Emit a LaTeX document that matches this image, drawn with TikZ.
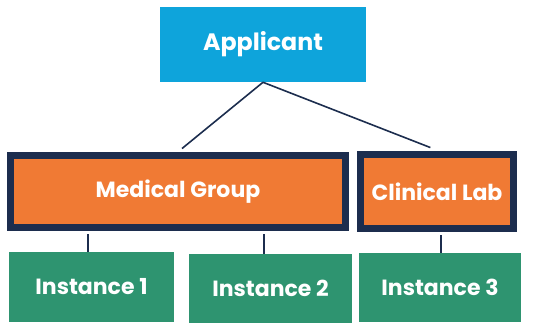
\documentclass[tikz,border=0pt]{standalone}
\usepackage{fontspec}
\setmainfont{Poppins}
\usetikzlibrary{positioning}
\definecolor{appblue}{RGB}{14,164,219}
\definecolor{grporange}{RGB}{240,122,52}
\definecolor{grpnavy}{RGB}{28,45,78}
\definecolor{instgreen}{RGB}{46,148,112}

\begin{document}
\begin{tikzpicture}[x=0.75pt,y=-0.75pt,
    box/.style={inner sep=0pt,text=white,font=\fontsize{16.5}{18}\selectfont\bfseries},
    appbox/.style={box,fill=appblue,minimum width=154.5pt,minimum height=56.25pt,
      font=\fontsize{17.8}{20}\selectfont\bfseries},
    grpbox/.style={box,fill=grporange,draw=grpnavy,line width=5.25pt,minimum height=54pt},
    instbox/.style={box,fill=instgreen,minimum height=52pt},
    lnk/.style={draw=grpnavy,line width=1.2pt}]
\useasboundingbox (0,0) rectangle (560,328);

\node[appbox] (app) at (263,44.5) {Applicant};
\node[grpbox,minimum width=251.25pt] (mg) at (178,191.5) {Medical Group};
\node[grpbox,minimum width=114.75pt,minimum height=55.5pt] (cl) at (437,191.5) {Clinical Lab};
\node[instbox,minimum width=123.75pt] (i1) at (91.5,287) {Instance 1};
\node[instbox,minimum width=122.25pt] (i2) at (270.5,288.5) {Instance 2};
\node[instbox,minimum width=121.5pt] (i3) at (440,287.5) {Instance 3};

% links
\draw[lnk] (app.south) -- ([xshift=3pt,yshift=2.6pt]mg.north);
\draw[lnk] (app.south) -- ([xshift=-5pt,yshift=2.6pt]cl.north);
\draw[lnk] ([xshift=-2.6pt]i1.north) -- ([xshift=-2.6pt,yshift=-2.6pt]i1.north |- mg.south);
\draw[lnk] ([xshift=-4.9pt]i2.north) -- ([xshift=-4.9pt,yshift=-2.6pt]i2.north |- mg.south);
\draw[lnk] ([xshift=0.8pt]i3.north) -- ([xshift=0.8pt,yshift=-2.6pt]i3.north |- cl.south);
\end{tikzpicture}
\end{document}
